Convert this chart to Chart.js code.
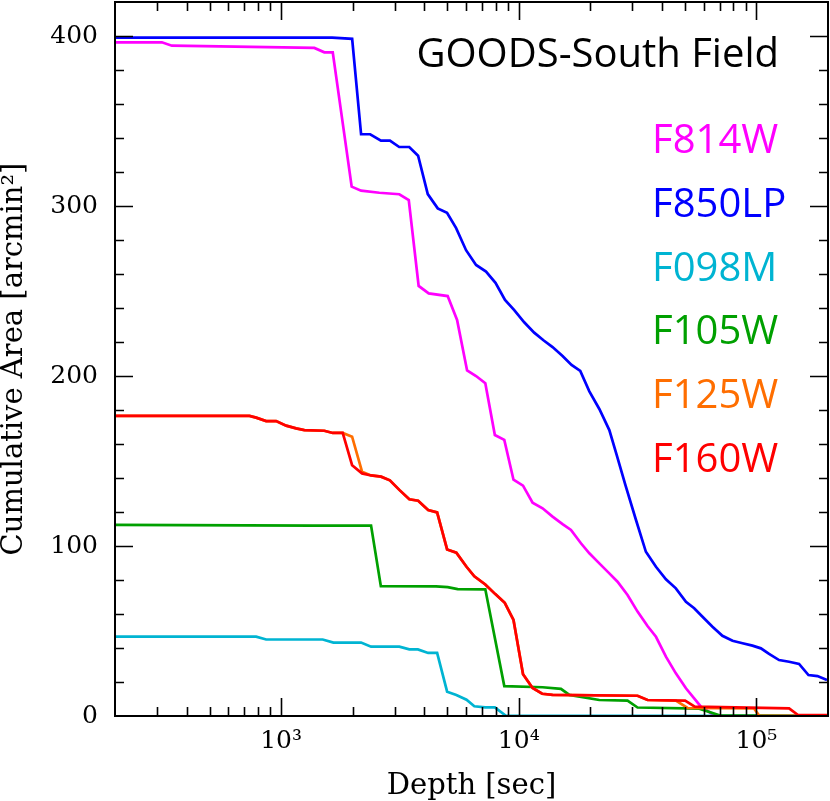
<!DOCTYPE html>
<html lang="en">
<head>
  <meta charset="UTF-8" />
  <script src="https://cdn.jsdelivr.net/npm/chart.js"></script>
  <title>GOODS-South Field</title>
  <style>
    body { margin: 0; background: #fff; }
    #wrap { width: 830px; height: 801px; }
  </style>
</head>
<body>
  <div id="wrap"><canvas id="areaChart"></canvas></div>

  <script>
    // Depth [sec] / cumulative area [arcmin^2]
    const f814wDepth = [200, 315, 347, 1380, 1520, 1649, 1981, 2170, 2589, 3143, 3444, 3790, 4178, 5020, 5500, 6060, 6610, 7230, 7930, 8690, 9500, 10420, 11430, 12590, 13870, 15280, 16580, 18260, 19810, 21820, 24040, 26030, 28680, 31600, 34800, 37770, 41600, 45800, 50500, 54700, 58400, 67000, 198000];
    const f814wArea = [396.3, 396.3, 394.3, 393, 390.4, 390.4, 311.4, 309, 307.8, 306.9, 303.5, 253, 248.6, 247, 233, 203.3, 200, 195.7, 165.3, 162.4, 139, 135.5, 125.5, 122.2, 117.3, 112.9, 109.4, 101.6, 95.7, 89.8, 83.9, 79, 71.2, 61.4, 52.9, 46.6, 34.9, 25.1, 16.3, 10.4, 5.5, 0, 0];

    const f850lpDepth = [200, 1640, 1990, 2170, 2370, 2630, 2870, 3140, 3460, 3770, 4140, 4560, 4990, 5450, 6000, 6610, 7280, 7980, 8750, 9570, 10540, 11610, 12700, 13870, 15280, 16670, 18140, 19810, 21820, 24040, 25830, 28080, 31130, 34260, 37770, 41600, 45800, 50500, 54700, 59300, 65300, 71900, 79300, 87400, 96200, 104400, 113000, 124500, 137200, 151100, 165500, 180700, 198000];
    const f850lpArea = [399, 399, 398.3, 342.2, 342.2, 338.5, 338.5, 334.7, 334.7, 329.6, 307, 298.6, 296, 287, 274, 265.3, 261.4, 254.8, 244.7, 238.8, 231.6, 225.5, 221, 217, 211.8, 206.5, 203, 191, 180.6, 168.2, 153.5, 135.9, 115.3, 96.6, 87.8, 80.4, 75.1, 67.2, 63.4, 58.4, 52.5, 47.2, 44.3, 42.8, 41.4, 39.8, 36.5, 32.9, 31.9, 30.6, 24.1, 23.5, 21.2];

    const f098mDepth = [200, 785, 865, 1496, 1660, 2170, 2390, 3143, 3463, 3762, 4155, 4533, 4994, 5461, 6026, 6500, 7230, 7930, 8800, 198000];
    const f098mArea = [46.7, 46.7, 45, 45, 43.2, 43.2, 40.8, 40.8, 39.2, 39.2, 37.1, 37.1, 14.3, 12.4, 9.6, 5.7, 5.1, 5.1, 0.3, 0];

    const f105wDepth = [200, 1358, 2390, 2628, 4486, 5020, 5530, 7230, 8690, 12590, 15050, 16320, 21820, 28680, 31600, 57500, 69800, 198000];
    const f105wArea = [112.4, 112, 112, 76.4, 76.2, 75.8, 74.6, 74.5, 17.6, 16.9, 16, 12.4, 9.4, 9, 5, 4.3, 0.4, 0];

    const f125wDepth = [200, 736, 785, 865, 953, 1050, 1156, 1253, 1520, 1649, 1816, 1989, 2190, 2390, 2633, 2868, 3143, 3463, 3772, 4155, 4533, 4994, 5461, 6026, 6500, 7230, 7964, 8730, 9500, 10420, 11430, 12540, 13870, 31600, 34800, 45800, 51300, 97700, 102600, 198000];
    const f125wArea = [176.5, 176.5, 175.5, 173.5, 173.5, 170.8, 169.2, 168.2, 167.8, 166.5, 166.5, 164.3, 143.7, 141.5, 140.8, 138.6, 133, 127.5, 126.6, 121.2, 119.8, 98, 96.1, 87.8, 82.2, 77.4, 71.7, 66.6, 56.5, 24.6, 16.5, 13.1, 12.4, 11.9, 9.4, 9, 4.7, 4.5, 0.3, 0];

    const f160wDepth = [200, 736, 785, 865, 953, 1050, 1156, 1253, 1520, 1649, 1816, 1989, 2190, 2390, 2633, 2868, 3143, 3463, 3772, 4155, 4533, 4994, 5461, 6026, 6500, 7230, 7964, 8730, 9500, 10420, 11430, 12540, 13870, 31600, 34800, 50100, 55000, 137200, 149600, 198000];
    const f160wArea = [176.5, 176.5, 175.5, 173.5, 173.5, 170.8, 169.2, 168.2, 167.8, 166.5, 166.5, 147.5, 142.7, 141.5, 140.8, 138.6, 133, 127.5, 126.6, 121.2, 119.8, 98, 96.1, 87.8, 82.2, 77.4, 71.7, 66.6, 56.5, 24.6, 16.5, 13.1, 12.4, 11.9, 9.4, 9, 5.5, 4.5, 0.6, 0.5];

    const filterNames = ["F814W", "F850LP", "F098M", "F105W", "F125W", "F160W"];
    const filterColors = ["#ff00ff", "#0000ff", "#00b4d2", "#00a000", "#ff6e00", "#ff0000"];

    // tick positions
    const xMajorTicks = [1000, 10000, 100000];
    const xMinorTicks = [200, 300, 400, 500, 600, 700, 800, 900, 2000, 3000, 4000, 5000, 6000, 7000, 8000, 9000, 20000, 30000, 40000, 50000, 60000, 70000, 80000, 90000, 200000];
    const yMajorTicks = [0, 100, 200, 300, 400];
    const yMinorTicks = [20, 40, 60, 80, 120, 140, 160, 180, 220, 240, 260, 280, 320, 340, 360, 380];

    const superscripts = { 3: "³", 4: "⁴", 5: "⁵" };

    function pairs(xs, ys) {
      return xs.map((x, i) => ({ x: x, y: ys[i] }));
    }

    const seriesList = [
      [f814wDepth, f814wArea],
      [f850lpDepth, f850lpArea],
      [f098mDepth, f098mArea],
      [f105wDepth, f105wArea],
      [f125wDepth, f125wArea],
      [f160wDepth, f160wArea],
    ];
    // red drawn on top, then orange, ...
    const drawOrder = [4, 5, 3, 2, 1, 0];

    const datasets = seriesList.map((s, i) => ({
      label: filterNames[i],
      data: pairs(s[0], s[1]),
      borderColor: filterColors[i],
      borderWidth: 2.7,
      pointRadius: 0,
      tension: 0,
      fill: false,
      order: drawOrder[i],
    }));

    // frame + inward ticks on all four sides, then the text labels
    const framePlugin = {
      id: "frame",
      afterDraw(chart) {
        const ctx = chart.ctx;
        const a = chart.chartArea;
        const xs = chart.scales.x;
        const ys = chart.scales.y;
        ctx.save();
        ctx.strokeStyle = "#000";
        ctx.lineWidth = 2;
        ctx.strokeRect(a.left, a.top, a.right - a.left, a.bottom - a.top);

        ctx.lineWidth = 1.6;
        ctx.beginPath();
        function xTick(v, len) {
          const px = Math.round(xs.getPixelForValue(v)) + 0.5;
          if (px <= a.left + 1 || px >= a.right - 1) return;
          ctx.moveTo(px, a.bottom); ctx.lineTo(px, a.bottom - len);
          ctx.moveTo(px, a.top); ctx.lineTo(px, a.top + len);
        }
        function yTick(v, len) {
          const py = Math.round(ys.getPixelForValue(v)) + 0.5;
          if (py <= a.top + 1 || py >= a.bottom - 1) return;
          ctx.moveTo(a.left, py); ctx.lineTo(a.left + len, py);
          ctx.moveTo(a.right, py); ctx.lineTo(a.right - len, py);
        }
        xMajorTicks.forEach(v => xTick(v, 18));
        xMinorTicks.forEach(v => xTick(v, 9));
        yMajorTicks.forEach(v => yTick(v, 18));
        yMinorTicks.forEach(v => yTick(v, 9));
        ctx.stroke();

        ctx.textBaseline = "alphabetic";
        ctx.font = "40px 'Open Sans'";
        ctx.fillStyle = "#000";
        ctx.textAlign = "right";
        ctx.fillText("GOODS-South Field", 779, 67);
        ctx.textAlign = "left";
        filterNames.forEach((name, i) => {
          ctx.fillStyle = filterColors[i];
          ctx.fillText(name, 652, 153 + i * 63.8);
        });
        ctx.restore();
      }
    };

    new Chart(document.getElementById("areaChart"), {
      type: "line",
      data: { datasets: datasets },
      options: {
        responsive: true,
        maintainAspectRatio: false,
        animation: false,
        layout: { padding: { top: 2, right: 2, left: 0, bottom: 0 } },
        plugins: {
          legend: { display: false },
          tooltip: { enabled: false },
        },
        scales: {
          x: {
            type: "logarithmic",
            min: 200,
            max: 200000,
            grid: { display: false, drawTicks: false },
            border: { display: false },
            afterFit(scale) {
              scale.height = 85;
              scale.paddingLeft = 0;
              scale.paddingRight = 0;
            },
            afterBuildTicks(scale) {
              scale.ticks = xMinorTicks.concat(xMajorTicks).sort((p, q) => p - q).map(v => ({ value: v }));
            },
            ticks: {
              autoSkip: false,
              maxRotation: 0,
              padding: 10,
              color: "#000",
              font: { family: "'DejaVu Serif'", size: 25 },
              callback(value) {
                const e = Math.round(Math.log10(value));
                return xMajorTicks.includes(value) ? "10" + superscripts[e] : "";
              }
            },
            title: {
              display: true,
              text: "Depth [sec]",
              color: "#000",
              font: { family: "'DejaVu Serif'", size: 29, lineHeight: 1 },
              padding: { top: 0, bottom: 0 }
            }
          },
          y: {
            min: 0,
            max: 420,
            grid: { display: false, drawTicks: false },
            border: { display: false },
            afterFit(scale) {
              scale.width = 115;
              scale.paddingTop = 0;
              scale.paddingBottom = 0;
            },
            afterBuildTicks(scale) {
              scale.ticks = yMajorTicks.concat(yMinorTicks).sort((p, q) => p - q).map(v => ({ value: v }));
            },
            ticks: {
              autoSkip: false,
              padding: 17,
              color: "#000",
              font: { family: "'DejaVu Serif'", size: 25 },
              callback(value) {
                return yMajorTicks.includes(value) ? String(value) : "";
              }
            },
            title: {
              display: true,
              text: "Cumulative Area [arcmin²]",
              color: "#000",
              font: { family: "'DejaVu Serif'", size: 29, lineHeight: 1 },
              padding: { top: 0, bottom: 0 }
            }
          }
        }
      },
      plugins: [framePlugin]
    });
  </script>
</body>
</html>
